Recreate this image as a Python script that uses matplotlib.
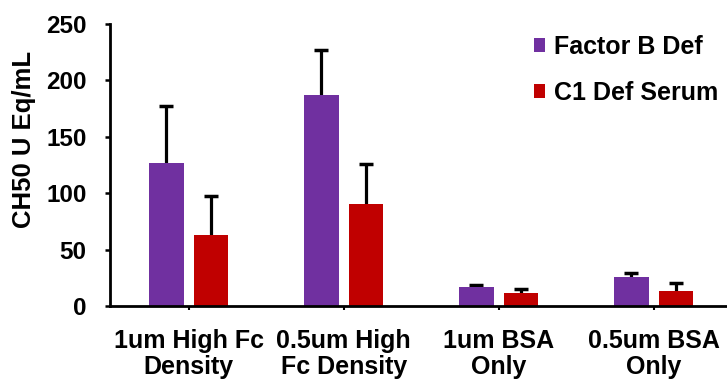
import matplotlib
matplotlib.use("Agg")
import matplotlib.pyplot as plt
import numpy as np

plt.rcParams['font.family'] = ['Liberation Sans', 'DejaVu Sans']
plt.rcParams['font.weight'] = 'bold'

categories = ["1um High Fc\nDensity", "0.5um High\nFc Density", "1um BSA\nOnly", "0.5um BSA\nOnly"]
series_names = ["Factor B Def", "C1 Def Serum"]
factor_b = [126.5, 187.3, 16.6, 25.4]
factor_b_err = [50.8, 39.7, 2.0, 3.6]
c1_def = [62.7, 90.7, 11.8, 13.6]
c1_def_err = [34.8, 35.2, 3.5, 6.5]
colors = ["#7030A0", "#C00000"]

fig = plt.figure(figsize=(7.27, 3.79), dpi=100)
ax = fig.add_axes([110/727, 1 - 306/379, 620/727, 282/379])

x = np.arange(len(categories))
w = 0.222
off = 0.144


def bars_with_upper_error(xpos, vals, errs, color, label):
    vals = np.asarray(vals)
    errs = np.asarray(errs)
    ax.bar(xpos, vals, w, color=color, label=label, zorder=2)
    # one-sided (upper) error bars with caps
    ax.vlines(xpos, vals, vals + errs, color="black", lw=2.3, zorder=1)
    ax.plot(xpos, vals + errs, ls="none", marker="_", ms=10, mew=2.5,
            color="black", zorder=1)


bars_with_upper_error(x - off, factor_b, factor_b_err, colors[0], series_names[0])
bars_with_upper_error(x + off, c1_def, c1_def_err, colors[1], series_names[1])

ax.set_xlim(-0.508, 3.492)
ax.set_ylim(0, 250)
ax.set_yticks([0, 50, 100, 150, 200, 250])
ax.set_xticks(x)
ax.set_xticklabels(categories, fontsize=18, fontweight='bold', linespacing=1.12)
ax.tick_params(axis='y', labelsize=17.5, width=1.8, length=3.8, direction='out', pad=13)
ax.tick_params(axis='x', width=1.5, length=3, direction='out', pad=13.5)
for lab in ax.get_yticklabels():
    lab.set_fontweight('bold')

for s in ['top', 'right']:
    ax.spines[s].set_visible(False)
for s in ['left', 'bottom']:
    ax.spines[s].set_linewidth(2.0)
ax.spines['bottom'].set_zorder(3)

ax.set_ylabel("CH50 U Eq/mL", fontsize=18.5, fontweight='bold')
ax.yaxis.set_label_coords(-0.119, 0.589)

leg = ax.legend(loc='upper left', bbox_to_anchor=(534/727, 1 - 35/379),
                bbox_transform=fig.transFigure, frameon=False,
                fontsize=18, handlelength=0.45, handleheight=0.45, handletextpad=0.35,
                labelspacing=0.88, borderaxespad=0.0, borderpad=0.0)
for t in leg.get_texts():
    t.set_fontweight('bold')

fig.savefig("out.png", dpi=100)
